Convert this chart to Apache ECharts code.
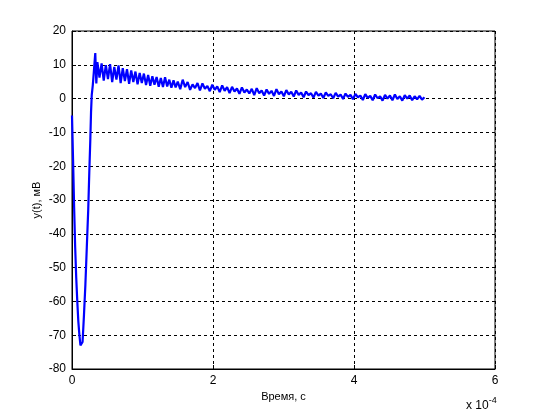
<!DOCTYPE html>
<html>
<head>
<meta charset="utf-8">
<script src="https://cdn.jsdelivr.net/npm/echarts@6/dist/echarts.min.js"></script>
<style>html,body{margin:0;padding:0;background:#fff}#c{width:550px;height:414px}</style>
</head>
<body>
<div id="c"></div>
<script>
// time, units of 1e-4 s
const timeValues = [
  0, 0.015, 0.03, 0.045, 0.06, 0.075, 0.09, 0.105, 0.12, 0.135, 0.15, 0.17, 0.19, 0.21, 0.23, 0.245, 0.26, 0.27, 0.28, 0.295, 0.31, 0.33, 0.345,
  0.36, 0.39, 0.42, 0.45, 0.48, 0.51, 0.54, 0.57, 0.60, 0.63, 0.66, 0.69, 0.72, 0.75, 0.78, 0.81, 0.84, 0.87, 0.90, 0.93, 0.96, 0.99,
  1.02, 1.05, 1.08, 1.11, 1.14, 1.17, 1.20, 1.23, 1.26, 1.29, 1.32, 1.35, 1.38, 1.41, 1.44, 1.47, 1.50,
  1.535, 1.57, 1.605, 1.64, 1.675, 1.71, 1.745, 1.78, 1.815, 1.85, 1.885, 1.92, 1.955, 1.99, 2.025, 2.06, 2.095, 2.13, 2.165, 2.2,
  2.235, 2.27, 2.305, 2.34, 2.375, 2.41, 2.445, 2.48, 2.515, 2.55, 2.585, 2.62, 2.655, 2.69, 2.725, 2.76, 2.795, 2.83, 2.865, 2.9,
  2.935, 2.97, 3.005, 3.04, 3.075, 3.11, 3.145, 3.18, 3.215, 3.25, 3.285, 3.32, 3.355, 3.39, 3.425, 3.46, 3.495, 3.53, 3.565, 3.6,
  3.635, 3.67, 3.705, 3.74, 3.775, 3.81, 3.845, 3.88, 3.915, 3.95, 3.985, 4.02, 4.055, 4.09, 4.125, 4.16, 4.195, 4.23, 4.265, 4.3,
  4.335, 4.37, 4.405, 4.44, 4.475, 4.51, 4.545, 4.58, 4.615, 4.65, 4.685, 4.72, 4.755, 4.79, 4.825, 4.86, 4.895, 4.93, 4.965, 5.0
];
// y(t), mV
const yValues = [
  -5, -18, -32, -44, -53, -60, -66, -70, -73, -73.5, -72, -64, -55, -44, -33, -22, -12, -4, 1, 4, 8, 13.5, 4.5,
  10.8, 6.2, 10.4, 5.3, 9.9, 5.8, 10.2, 4.9, 9.4, 5.6, 9.8, 4.6, 9.0, 5.2, 8.7, 4.4, 8.3, 4.9, 8.0, 4.2, 7.6, 4.6,
  7.4, 4.0, 7.0, 3.8, 6.6, 4.1, 6.4, 3.5, 6.1, 3.4, 6.3, 3.6, 5.6, 3.2, 5.4, 3.3, 5.0,
  2.8, 5.6, 3.4, 4.9, 2.6, 4.2, 3.1, 4.6, 2.4, 4.5, 2.9, 3.7, 2.2, 4.1, 2.6, 3.6, 1.9, 3.9, 2.3, 3.4,
  1.6, 3.5, 2.1, 3.0, 1.4, 3.3, 1.8, 2.7, 1.5, 2.9, 1.0, 3.1, 1.6, 2.4, 0.9, 2.7, 1.4, 2.3, 0.8, 2.8,
  1.3, 2.1, 0.7, 2.5, 1.2, 2.0, 0.6, 2.4, 1.1, 1.8, 0.4, 2.1, 1.0, 1.6, 0.3, 2.0, 0.9, 1.5, 0.2, 1.8,
  0.8, 1.3, 0.1, 1.7, 0.6, 1.2, -0.1, 1.5, 0.5, 1.1, -0.2, 1.4, 0.4, 0.9, -0.4, 1.3, 0.2, 0.8, -0.5, 1.2,
  0.1, 0.7, -0.6, 1.1, 0.0, 0.9, -0.5, 1.2, -0.1, 0.7, -0.6, 1.0, 0.0, 0.9, -0.5, 0.7, -0.2, 0.8, -0.3, 0.4
];
const xTicks = [0, 2, 4, 6];
const yTicks = [-80, -70, -60, -50, -40, -30, -20, -10, 0, 10, 20];

const data = timeValues.map((t, i) => [t, yValues[i]]);
const font = 'Liberation Sans, Arial, sans-serif';
const chart = echarts.init(document.getElementById('c'), null, {renderer: 'canvas'});
chart.setOption({
  animation: false,
  backgroundColor: '#fff',
  grid: {left: 72, right: 55, top: 31, bottom: 45, show: true, borderColor: '#000', borderWidth: 1, backgroundColor: '#fff'},
  xAxis: {
    type: 'value', min: xTicks[0], max: xTicks[xTicks.length - 1], interval: 2,
    name: 'Время, с', nameLocation: 'middle', nameGap: 22, nameMoveOverlap: false,
    nameTextStyle: {color: '#000', fontSize: 11, fontFamily: font},
    axisLine: {show: true, onZero: false, lineStyle: {color: '#000', width: 1}},
    axisTick: {show: true, inside: true, length: 4, lineStyle: {color: '#000'}},
    axisLabel: {color: '#000', fontSize: 12, fontFamily: font, margin: 6},
    splitLine: {show: true, lineStyle: {color: '#000', type: [3, 3], width: 1}}
  },
  yAxis: {
    type: 'value', min: yTicks[0], max: yTicks[yTicks.length - 1], interval: 10,
    name: 'y(t), мВ', nameLocation: 'middle', nameGap: 30, nameRotate: 90, nameMoveOverlap: false,
    nameTextStyle: {color: '#000', fontSize: 11, fontFamily: font},
    axisLine: {show: true, onZero: false, lineStyle: {color: '#000', width: 1}},
    axisTick: {show: true, inside: true, length: 4, lineStyle: {color: '#000'}},
    axisLabel: {color: '#000', fontSize: 12, fontFamily: font, margin: 6},
    splitLine: {show: true, lineStyle: {color: '#000', type: [3, 3], width: 1}}
  },
  graphic: [{
    type: 'text', left: 466, top: 396,
    style: {
      text: '{a|x 10}{b|-4}',
      rich: {
        a: {fontSize: 12, fontFamily: font, fill: '#000', verticalAlign: 'bottom', lineHeight: 16},
        b: {fontSize: 9, fontFamily: font, fill: '#000', verticalAlign: 'top', lineHeight: 16, padding: [0, 0, 8, 0]}
      }
    }
  }],
  series: [{
    type: 'line', data: data, showSymbol: false, symbol: 'none',
    lineStyle: {color: '#0000ff', width: 2.2}
  }]
});
</script>
</body>
</html>
